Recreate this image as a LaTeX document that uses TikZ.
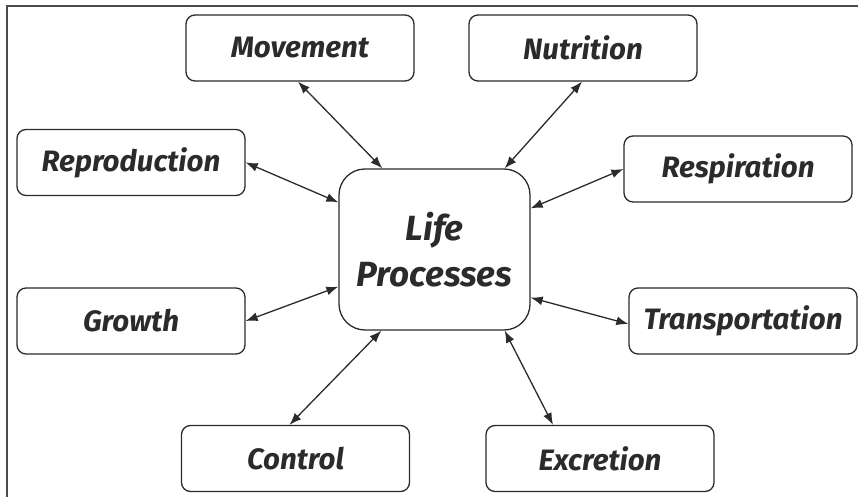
\documentclass[tikz,border=0pt]{standalone}
\usepackage{fontspec}
\setmainfont{Fira Sans}
\usetikzlibrary{arrows.meta}
\definecolor{ink}{HTML}{2B2B2B}
\tikzset{
  procbox/.style={draw=ink, line width=1.3pt, rounded corners=9pt, fill=white,
    minimum width=228pt, minimum height=66pt, inner sep=0pt,
    font=\fontsize{29.5}{34}\selectfont\bfseries\itshape, text=ink},
  hubbox/.style={draw=ink, line width=1.3pt, rounded corners=26pt, fill=white,
    minimum width=191pt, minimum height=161pt, inner sep=0pt, align=center,
    font=\fontsize{35}{46}\selectfont\bfseries\itshape, text=ink},
  link/.style={draw=ink, line width=1.3pt, {Latex[length=12pt,width=9pt]}-{Latex[length=12pt,width=9pt]}},
  frameline/.style={draw=ink!85, line width=1.6pt}
}
\begin{document}
\begin{tikzpicture}[x=1pt,y=-1pt]
\useasboundingbox (0,0) rectangle (858,497);
\fill[white] (0,0) rectangle (858,497);
\coordinate (fbl) at (7,497);
\coordinate (ftl) at (7,6);
\coordinate (ftr) at (858,6);
\draw[frameline] (fbl) -- (ftl) -- (ftr);

\node[hubbox] (ctr) at (434.5,249.5) {Life\\Processes};
\node[procbox] (mov) at (300,48) {Movement};
\node[procbox] (nut) at (583,48) {Nutrition};
\node[procbox] (rep) at (131,162.5) {Reproduction};
\node[procbox] (res) at (738,169) {Respiration};
\node[procbox] (gro) at (131,321) {Growth};
\node[procbox] (tra) at (743,321) {Transportation};
\node[procbox] (con) at (295.5,458.5) {Control};
\node[procbox] (exc) at (600,458.5) {Excretion};

\draw[link] ([xshift=-2pt]mov.south) -- ([xshift=44pt]ctr.north west);
\draw[link] ([xshift=-1pt]nut.south) -- ([xshift=-26pt]ctr.north east);
\draw[link] (rep.east) -- ([yshift=-34pt]ctr.north west);
\draw[link] (res.west) -- ([yshift=-40pt]ctr.north east);
\draw[link] (gro.east) -- ([yshift=44pt]ctr.south west);
\draw[link] ([yshift=33pt]ctr.south east) -- ([yshift=-3pt]tra.west);
\draw[link] ([xshift=43pt]ctr.south west) -- ([xshift=-6pt]con.north);
\draw[link] ([xshift=-26pt]ctr.south east) -- ([xshift=-47pt]exc.north);
\end{tikzpicture}
\end{document}
